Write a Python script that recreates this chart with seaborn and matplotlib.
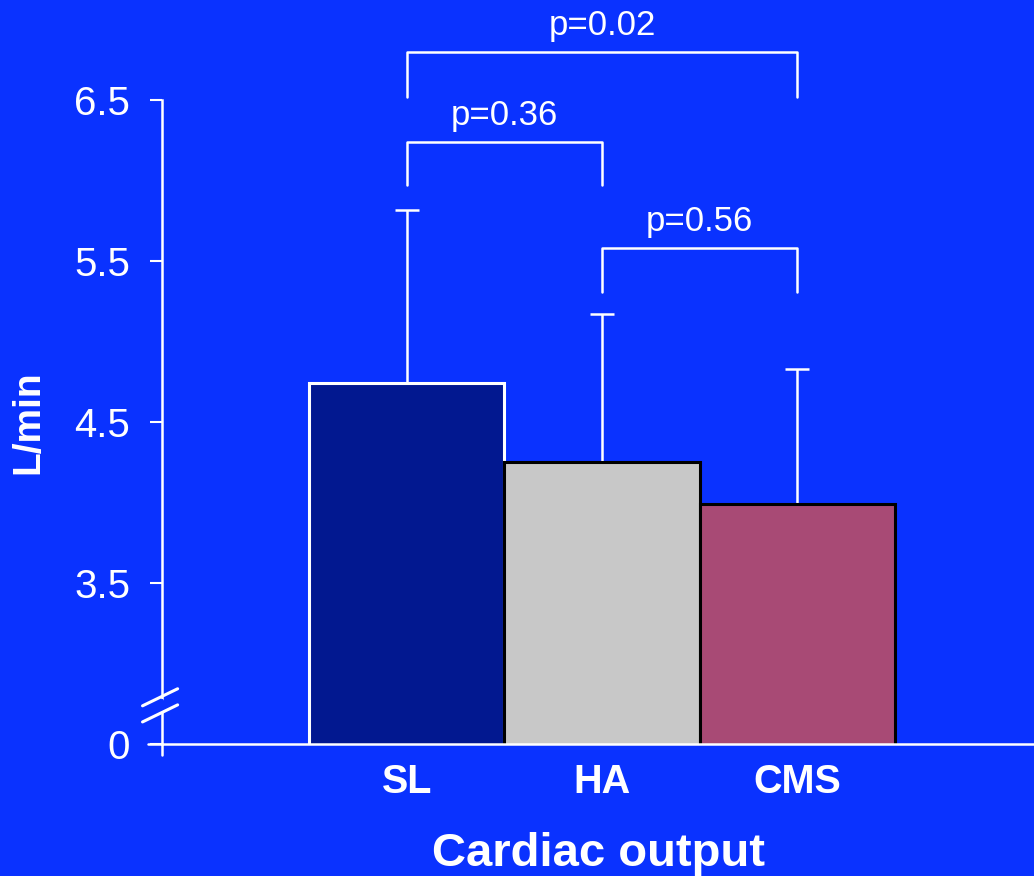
import matplotlib
matplotlib.use("Agg")
import matplotlib.pyplot as plt
import seaborn as sns
import pandas as pd
import numpy as np

# ---- data ----
groups = ["SL", "HA", "CMS"]
means = [4.74, 4.25, 3.99]
sd_upper = [1.08, 0.92, 0.84]
bar_colors = ["#021890", "#C8C8C8", "#A84A75"]
edge_colors = ["white", "black", "black"]
comparisons = [("SL", "CMS", "p=0.02"), ("SL", "HA", "p=0.36"), ("HA", "CMS", "p=0.56")]
ytick_vals = [2.5, 3.5, 4.5, 5.5, 6.5]
ytick_labels = ["0", "3.5", "4.5", "5.5", "6.5"]

BG = "#0A32FF"
sns.set_theme(style="white")
plt.rcParams["font.family"] = ["Liberation Sans", "DejaVu Sans"]

fig = plt.figure(figsize=(10.34, 8.76), dpi=100, facecolor=BG)
ax = fig.add_axes([0.1567, 0.1507, 1 - 0.1567, 0.8858 - 0.1507])
ax.set_facecolor(BG)

df = pd.DataFrame({"group": groups, "mean": means})
sns.barplot(data=df, x="group", y="mean", hue="group", palette=bar_colors,
            width=1.0, legend=False, ax=ax, saturation=1)
for patch, ec in zip(ax.patches, edge_colors):
    patch.set_edgecolor(ec)
    patch.set_linewidth(2.2)

xs = np.arange(len(groups))
ax.errorbar(xs, means, yerr=[np.zeros(len(means)), sd_upper], fmt="none",
            ecolor="white", elinewidth=1.8, capsize=8.6, capthick=1.8, zorder=1)
for patch in ax.patches:
    patch.set_zorder(2)

XL = -1.256
ax.set_xlim(XL, 3.215)
ax.set_ylim(2.5, 6.5)
ax.set_yticks(ytick_vals)
ax.set_yticklabels(ytick_labels)
ax.tick_params(axis="y", colors="white", labelsize=29, length=9, width=1.5,
               direction="out", pad=14, left=True)
ax.tick_params(axis="x", colors="white", labelsize=28.5, length=0, pad=14)
for lab in ax.get_xticklabels():
    lab.set_fontweight("bold")

for side in ["top", "right"]:
    ax.spines[side].set_visible(False)
ax.spines["left"].set_color("white")
ax.spines["bottom"].set_color("white")
ax.spines["left"].set_linewidth(1.8)
ax.spines["bottom"].set_linewidth(1.8)

ax.set_xlabel("Cardiac output", color="white", fontsize=34, fontweight="bold", labelpad=22)
ax.set_ylabel("L/min", color="white", fontsize=28, fontweight="bold", labelpad=20)

# spine extension below 0 and short tick left at 0
ax.plot([XL, XL], [2.5, 2.43], color="white", lw=1.8, clip_on=False)
ax.plot([XL - 0.07, XL], [2.5, 2.5], color="white", lw=1.8, clip_on=False)

# axis break marks
ax.plot([XL, XL], [2.71, 2.77], color=BG, lw=3, clip_on=False, zorder=4)
for yc in [2.69, 2.79]:
    ax.plot([XL - 0.1, XL + 0.08], [yc - 0.053, yc + 0.053], color="white",
            lw=2.2, clip_on=False, zorder=5)

# significance brackets
bracket_levels = [(6.52, 6.80, 6.86), (5.97, 6.24, 6.30), (5.31, 5.58, 5.64)]
for (g1, g2, txt), (ylo, yhi, ytxt) in zip(comparisons, bracket_levels):
    x1, x2 = groups.index(g1), groups.index(g2)
    ax.plot([x1, x1, x2, x2], [ylo, yhi, yhi, ylo], color="white", lw=1.8, clip_on=False)
    ax.text((x1 + x2) / 2, ytxt, txt, color="white", fontsize=25,
            ha="center", va="bottom")

fig.savefig("out.png", dpi=100, facecolor=BG)
